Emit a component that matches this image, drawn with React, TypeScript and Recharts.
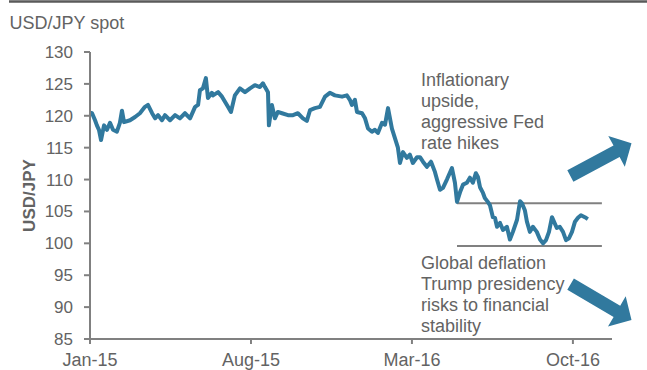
import React from 'react';
import { LineChart, Line, XAxis, YAxis, ReferenceLine } from 'recharts';

// Months elapsed since 1 Jan 2015
const monthOffsets = [
  0, 0.09, 0.22, 0.3, 0.39, 0.48, 0.61, 0.74, 0.87, 1.0, 1.17, 1.3, 1.39, 1.48, 1.74, 1.96,
  2.17, 2.39, 2.52, 2.7, 2.83, 2.96, 3.13, 3.26, 3.48, 3.7, 3.91, 4.13, 4.35, 4.57, 4.7,
  4.78, 4.91, 5.04, 5.13, 5.3, 5.35, 5.57, 5.74, 5.87, 6.0, 6.13, 6.3, 6.52, 6.74, 6.96,
  7.17, 7.39, 7.52, 7.61, 7.74, 7.78, 7.91, 8.04, 8.17, 8.35, 8.61, 8.83, 9.04, 9.26, 9.43,
  9.57, 9.78, 10.0, 10.22, 10.43, 10.65, 10.96, 11.17, 11.3, 11.39, 11.52, 11.61, 11.83,
  11.96, 12.09, 12.26, 12.39, 12.52, 12.7, 12.83, 12.96, 13.13, 13.26, 13.39, 13.48, 13.61,
  13.78, 13.91, 14.04, 14.22, 14.35, 14.48, 14.65, 14.83, 15.0, 15.09, 15.22, 15.35, 15.52,
  15.74, 15.87, 15.96, 16.09, 16.22, 16.39, 16.52, 16.65, 16.78, 16.87, 16.96, 17.09, 17.17,
  17.3, 17.39, 17.52, 17.61, 17.7, 17.83, 17.96, 18.13, 18.26, 18.39, 18.57, 18.7, 18.78,
  18.91, 19.0, 19.13, 19.26, 19.43, 19.57, 19.7, 19.83, 19.96, 20.09, 20.3, 20.43, 20.57,
  20.7, 20.83, 20.96, 21.09, 21.22, 21.35, 21.52, 21.65,
];

const usdJpy = [
  120.5, 120.4, 119.3, 118.5, 117.8, 116.2, 118.5, 117.8, 118.9, 117.8, 117.5, 118.9, 120.8, 119.0, 119.3, 119.8,
  120.4, 121.4, 121.7, 120.4, 119.6, 120.1, 119.3, 120.1, 119.3, 120.1, 119.6, 120.4, 119.6, 121.4, 121.7,
  124.0, 124.3, 125.9, 122.8, 123.6, 123.2, 123.7, 123.0, 122.2, 121.4, 120.6, 123.2, 124.3, 123.7, 124.3,
  124.8, 124.5, 125.1, 124.5, 123.7, 118.5, 121.7, 119.6, 120.6, 120.4, 120.1, 120.1, 120.4, 119.6, 119.2,
  120.9, 121.2, 121.4, 123.0, 123.6, 123.2, 123.0, 123.2, 122.5, 121.7, 122.5, 120.6, 120.4,
  119.6, 118.0, 117.5, 117.8, 117.3, 118.9, 118.6, 121.2, 118.0, 116.5, 115.0, 112.6, 114.3,
  113.4, 113.9, 112.6, 113.5, 113.5, 112.8, 112.0, 112.8, 111.2, 110.0, 108.4, 108.7, 110.0,
  111.8, 109.5, 106.5, 108.0, 109.2, 109.5, 110.3, 109.5, 111.0, 110.4, 108.8, 107.9, 107.1,
  106.5, 106.0, 104.1, 104.0, 102.6, 103.2, 102.1, 102.6, 100.6, 101.8, 103.7, 106.6, 106.3,
  105.2, 103.4, 101.8, 102.6, 101.8, 100.6, 100.0, 100.5, 101.8, 104.1, 102.4, 102.6, 101.8,
  100.5, 100.8, 101.8, 103.4, 104.0, 104.4, 104.1, 103.8,
];

const xTickMonths = [0, 7, 14, 21];
const xTickLabels = ['Jan-15', 'Aug-15', 'Mar-16', 'Oct-16'];
const yTicks = [85, 90, 95, 100, 105, 110, 115, 120, 125, 130];

// Trading range (months, USD/JPY)
const rangeStart = 15.96;
const rangeEnd = 22.26;
const rangeUpper = 106.3;
const rangeLower = 99.6;

// Scenario arrows: [tail, tip] in (months, USD/JPY)
const upArrow = [
  { x: 20.89, y: 110.56 },
  { x: 23.55, y: 115.69 },
];
const downArrow = [
  { x: 20.9, y: 93.59 },
  { x: 23.55, y: 87.98 },
];

const upsideNote = ['Inflationary', 'upside,', 'aggressive Fed', 'rate hikes'];
const downsideNote = ['Global deflation', 'Trump presidency', 'risks to financial', 'stability'];

const data = monthOffsets.map((m, i) => ({ m, v: usdJpy[i] }));

const FONT = '"Liberation Sans", Arial, sans-serif';
const TEXT = '#636363';
const AXIS = '#808080';
const BLUE = '#31799e';

const ArrowShape = (p: any) => {
  const { x1, y1, x2, y2 } = p;
  const dx = x2 - x1;
  const dy = y2 - y1;
  const len = Math.sqrt(dx * dx + dy * dy) || 1;
  const ux = dx / len;
  const uy = dy / len;
  const nx = -uy;
  const ny = ux;
  const bh = 6.5;
  const hh = 17.5;
  const hl = 17;
  const bx = x2 - ux * hl;
  const by = y2 - uy * hl;
  const pts = [
    [x1 + nx * bh, y1 + ny * bh],
    [bx + nx * bh, by + ny * bh],
    [bx + nx * hh, by + ny * hh],
    [x2, y2],
    [bx - nx * hh, by - ny * hh],
    [bx - nx * bh, by - ny * bh],
    [x1 - nx * bh, y1 - ny * bh],
  ]
    .map((q) => q[0].toFixed(1) + ',' + q[1].toFixed(1))
    .join(' ');
  return <polygon points={pts} fill={BLUE} />;
};

export default function App() {
  return (
    <div style={{ position: 'absolute', left: 0, top: 0, width: 647, height: 370, background: '#fff' }}>
      <LineChart
        width={647}
        height={370}
        data={data}
        margin={{ top: 52, right: 35, bottom: 0, left: 0 }}
      >
        <XAxis
          dataKey="m"
          type="number"
          domain={[0, 22.7]}
          ticks={xTickMonths}
          tickFormatter={(v: number) => xTickLabels[xTickMonths.indexOf(v)] ?? ''}
          height={31}
          tickSize={5}
          tickMargin={9}
          axisLine={{ stroke: AXIS, strokeWidth: 2 }}
          tickLine={{ stroke: AXIS, strokeWidth: 2 }}
          tick={{ fill: TEXT, fontSize: 18, fontFamily: FONT }}
          allowDataOverflow
        />
        <YAxis
          type="number"
          domain={[85, 130]}
          ticks={yTicks}
          width={90}
          tickSize={6}
          tickMargin={11}
          axisLine={{ stroke: AXIS, strokeWidth: 2 }}
          tickLine={{ stroke: AXIS, strokeWidth: 2 }}
          tick={{ fill: TEXT, fontSize: 17, fontFamily: FONT }}
          allowDataOverflow
        />
        <ReferenceLine
          segment={[
            { x: rangeStart, y: rangeUpper },
            { x: rangeEnd, y: rangeUpper },
          ]}
          stroke={AXIS}
          strokeWidth={2}
          ifOverflow="visible"
        />
        <ReferenceLine
          segment={[
            { x: rangeStart, y: rangeLower },
            { x: rangeEnd, y: rangeLower },
          ]}
          stroke={AXIS}
          strokeWidth={2}
          ifOverflow="visible"
        />
        <Line
          dataKey="v"
          type="linear"
          stroke={BLUE}
          strokeWidth={4}
          dot={false}
          activeDot={false}
          isAnimationActive={false}
          strokeLinejoin="round"
        />
        <ReferenceLine segment={upArrow} ifOverflow="visible" shape={ArrowShape} />
        <ReferenceLine segment={downArrow} ifOverflow="visible" shape={ArrowShape} />
      </LineChart>
      <svg
        width={647}
        height={370}
        style={{ position: 'absolute', left: 0, top: 0, pointerEvents: 'none' }}
      >
        <line x1={9} y1={1.5} x2={647} y2={1.5} stroke="#5a5a5a" strokeWidth={2.5} />
        <text x={9.5} y={28.5} fill={TEXT} fontSize={18} fontFamily={FONT}>
          USD/JPY spot
        </text>
        <text
          x={0}
          y={0}
          transform="translate(35,195.5) rotate(-90)"
          textAnchor="middle"
          fill={TEXT}
          fontSize={17}
          fontWeight="bold"
          fontFamily={FONT}
        >
          USD/JPY
        </text>
        {upsideNote.map((s, i) => (
          <text key={'u' + i} x={421} y={85.5 + i * 21} fill={TEXT} fontSize={18} fontFamily={FONT}>
            {s}
          </text>
        ))}
        {downsideNote.map((s, i) => (
          <text key={'d' + i} x={421} y={268.5 + i * 21.1} fill={TEXT} fontSize={18} fontFamily={FONT}>
            {s}
          </text>
        ))}
      </svg>
    </div>
  );
}
